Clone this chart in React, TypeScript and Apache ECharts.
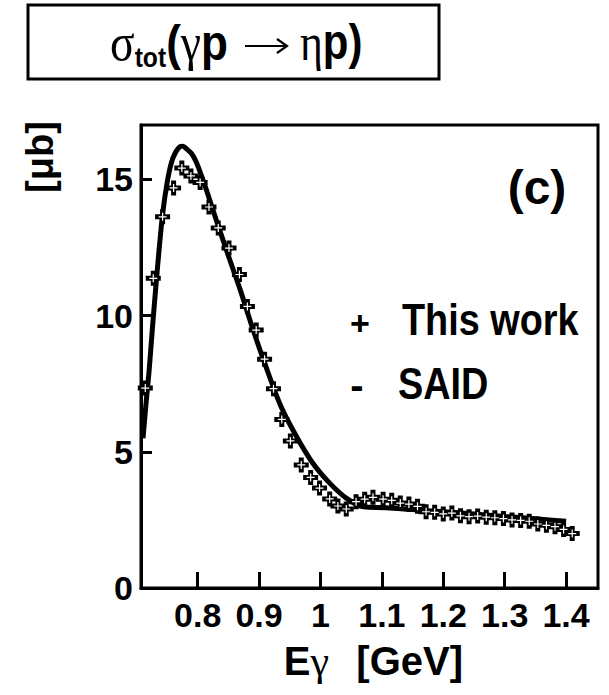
import React, { useEffect, useRef } from "react";
import * as echarts from "echarts";

// Measured total cross section sigma_tot(gamma p -> eta p), in microbarn
const energies = [
  0.7147, 0.7277, 0.7429, 0.7608, 0.7742, 0.789, 0.804, 0.8184, 0.8335, 0.851,
  0.868, 0.881, 0.8953, 0.909, 0.9235, 0.937, 0.951, 0.9687, 0.984, 0.9985,
  1.015, 1.0284, 1.042, 1.058, 1.072, 1.0855, 1.102, 1.116, 1.13, 1.144,
  1.158, 1.172, 1.186, 1.2, 1.214, 1.228, 1.242, 1.256, 1.27, 1.284,
  1.298, 1.312, 1.326, 1.34, 1.354, 1.368, 1.382, 1.396, 1.41,
];
const crossSections = [
  7.34, 11.37, 13.63, 14.69, 15.42, 15.13, 14.89, 13.99, 13.22, 12.48,
  11.51, 10.34, 9.47, 8.4, 7.32, 6.19, 5.4, 4.52, 4.06, 3.67,
  3.27, 3.01, 2.9, 3.17, 3.26, 3.33, 3.26, 3.22, 3.12, 3.08,
  3.0, 2.8, 2.78, 2.72, 2.75, 2.65, 2.62, 2.64, 2.6, 2.58,
  2.55, 2.5, 2.48, 2.45, 2.35, 2.3, 2.25, 2.15, 2.0,
];

// SAID partial-wave solution
const saidEnergies = [
  0.711, 0.716, 0.721, 0.7265, 0.732, 0.7375, 0.743, 0.75, 0.757, 0.764,
  0.771, 0.776, 0.782, 0.79, 0.7975, 0.806, 0.814, 0.822, 0.83, 0.85,
  0.87, 0.89, 0.91, 0.935, 0.96, 0.9876, 1.015, 1.042, 1.07, 1.107,
  1.15, 1.2, 1.25, 1.3, 1.35, 1.4,
];
const saidValues = [
  5.5, 6.8, 8.0, 9.6, 11.1, 12.5, 13.75, 14.85, 15.6, 16.0,
  16.2, 16.22, 16.12, 15.95, 15.65, 15.15, 14.63, 14.08, 13.53, 12.2,
  10.9, 9.5, 8.2, 6.7, 5.6, 4.58, 3.85, 3.3, 2.98, 2.95,
  2.88, 2.8, 2.72, 2.63, 2.54, 2.45,
];

const xTicks = [0.8, 0.9, 1.0, 1.1, 1.2, 1.3, 1.4];
const yTicks = [0, 5, 10, 15];

const SANS = "'Liberation Sans', Arial, Helvetica, sans-serif";
const SERIF = "'Liberation Serif', 'DejaVu Serif', serif";

// Open-cross data marker: a solid black cross with a thin white plus inside
const CROSS = "path://M5,0H10V5H15V10H10V15H5V10H0V5H5Z";
const THIN_PLUS = "path://M0,3.4H8V4.6H0Z M3.4,0H4.6V8H3.4Z";

export default function App() {
  const ref = useRef<HTMLDivElement>(null);

  useEffect(() => {
    if (!ref.current) return;
    const chart = echarts.init(ref.current, undefined, { renderer: "svg" });
    const points = energies.map((e, i) => [e, crossSections[i]]);

    const option = {
      animation: false,
      backgroundColor: "#fff",
      grid: {
        left: 141,
        right: 11,
        top: 125,
        bottom: 107,
        show: true,
        borderColor: "#000",
        borderWidth: 3,
        backgroundColor: "transparent",
      },
      xAxis: {
        type: "value",
        min: 0.7077,
        max: 1.452,
        axisLine: { show: true, lineStyle: { color: "#000", width: 3 } },
        axisTick: {
          show: true,
          inside: true,
          length: 16,
          customValues: xTicks,
          lineStyle: { color: "#000", width: 3 },
        },
        axisLabel: {
          customValues: xTicks,
          color: "#000",
          fontSize: 34,
          fontWeight: "bold",
          fontFamily: SANS,
          margin: 10,
          formatter: (v: number) => String(v),
        },
        splitLine: { show: false },
      },
      yAxis: {
        type: "value",
        min: 0,
        max: 17,
        axisLine: { show: true, lineStyle: { color: "#000", width: 3 } },
        axisTick: {
          show: true,
          inside: true,
          length: 11,
          customValues: yTicks,
          lineStyle: { color: "#000", width: 3 },
        },
        axisLabel: {
          customValues: yTicks,
          color: "#000",
          fontSize: 34,
          fontWeight: "bold",
          fontFamily: SANS,
          margin: 8,
        },
        splitLine: { show: false },
      },
      series: [
        {
          name: "SAID",
          type: "line",
          data: saidEnergies.map((e, i) => [e, saidValues[i]]),
          smooth: 0.3,
          showSymbol: false,
          lineStyle: { color: "#000", width: 5 },
          z: 2,
        },
        {
          name: "This work",
          type: "scatter",
          data: points,
          symbol: CROSS,
          symbolSize: 15,
          itemStyle: { color: "#000", borderWidth: 0, opacity: 1 },
          z: 3,
        },
        {
          name: "This work (inner)",
          type: "scatter",
          data: points,
          symbol: THIN_PLUS,
          symbolSize: 8,
          itemStyle: { color: "#fff", borderWidth: 0, opacity: 1 },
          z: 4,
        },
      ],
      graphic: [
        {
          type: "rect",
          shape: { x: 28, y: 5, width: 411, height: 74 },
          style: { fill: "#fff", stroke: "#000", lineWidth: 3 },
        },
        {
          type: "text",
          x: 110,
          y: 42,
          scaleX: 0.88,
          style: {
            text: "{g|σ}{sub|tot}{b|(}{g|γ}{b|p}",
            align: "left",
            verticalAlign: "middle",
            rich: {
              g: { fontFamily: SERIF, fontSize: 52, fill: "#000" },
              b: { fontFamily: SANS, fontWeight: "bold", fontSize: 50, fill: "#000" },
              sub: {
                fontFamily: SANS,
                fontWeight: "bold",
                fontSize: 28,
                fill: "#000",
                padding: [30, 0, 0, 0],
              },
            },
          },
        },
        {
          type: "line",
          shape: { x1: 245, y1: 46, x2: 286, y2: 46 },
          style: { stroke: "#000", lineWidth: 2.2 },
        },
        {
          type: "polyline",
          shape: { points: [[277, 39], [287, 46], [277, 53]] },
          style: { stroke: "#000", lineWidth: 2.2, fill: "none" },
        },
        {
          type: "text",
          x: 300,
          y: 42,
          scaleX: 0.84,
          style: {
            text: "{g|η}{b|p)}",
            align: "left",
            verticalAlign: "middle",
            rich: {
              g: { fontFamily: SERIF, fontSize: 52, fill: "#000" },
              b: { fontFamily: SANS, fontWeight: "bold", fontSize: 50, fill: "#000" },
            },
          },
        },
        {
          type: "text",
          x: 40,
          y: 157,
          rotation: Math.PI / 2,
          style: {
            text: "[μb]",
            align: "center",
            verticalAlign: "middle",
            font: `bold 38px ${SANS}`,
            fill: "#000",
          },
        },
        {
          type: "text",
          x: 463,
          y: 661,
          style: {
            text: "{b|E}{g|γ}{b|  [GeV]}",
            align: "right",
            verticalAlign: "middle",
            rich: {
              g: { fontFamily: SERIF, fontSize: 42, fill: "#000", padding: [0, 5, 0, 0] },
              b: { fontFamily: SANS, fontWeight: "bold", fontSize: 40, fill: "#000" },
            },
          },
        },
        {
          type: "text",
          x: 537,
          y: 187,
          style: {
            text: "(c)",
            align: "center",
            verticalAlign: "middle",
            font: `bold 48px ${SANS}`,
            fill: "#000",
          },
        },
        {
          type: "text",
          x: 360,
          y: 323,
          style: {
            text: "+",
            align: "center",
            verticalAlign: "middle",
            font: `bold 34px ${SANS}`,
            fill: "#000",
          },
        },
        {
          type: "text",
          x: 402,
          y: 320,
          scaleX: 0.86,
          style: {
            text: "This work",
            align: "left",
            verticalAlign: "middle",
            font: `bold 44px ${SANS}`,
            fill: "#000",
          },
        },
        {
          type: "text",
          x: 357,
          y: 385,
          style: {
            text: "-",
            align: "center",
            verticalAlign: "middle",
            font: `bold 40px ${SANS}`,
            fill: "#000",
          },
        },
        {
          type: "text",
          x: 398,
          y: 384,
          scaleX: 0.86,
          style: {
            text: "SAID",
            align: "left",
            verticalAlign: "middle",
            font: `bold 44px ${SANS}`,
            fill: "#000",
          },
        },
      ],
    };

    chart.setOption(option as any);
    return () => chart.dispose();
  }, []);

  return (
    <div
      ref={ref}
      style={{ position: "fixed", left: 0, top: 0, width: 609, height: 695 }}
    />
  );
}
